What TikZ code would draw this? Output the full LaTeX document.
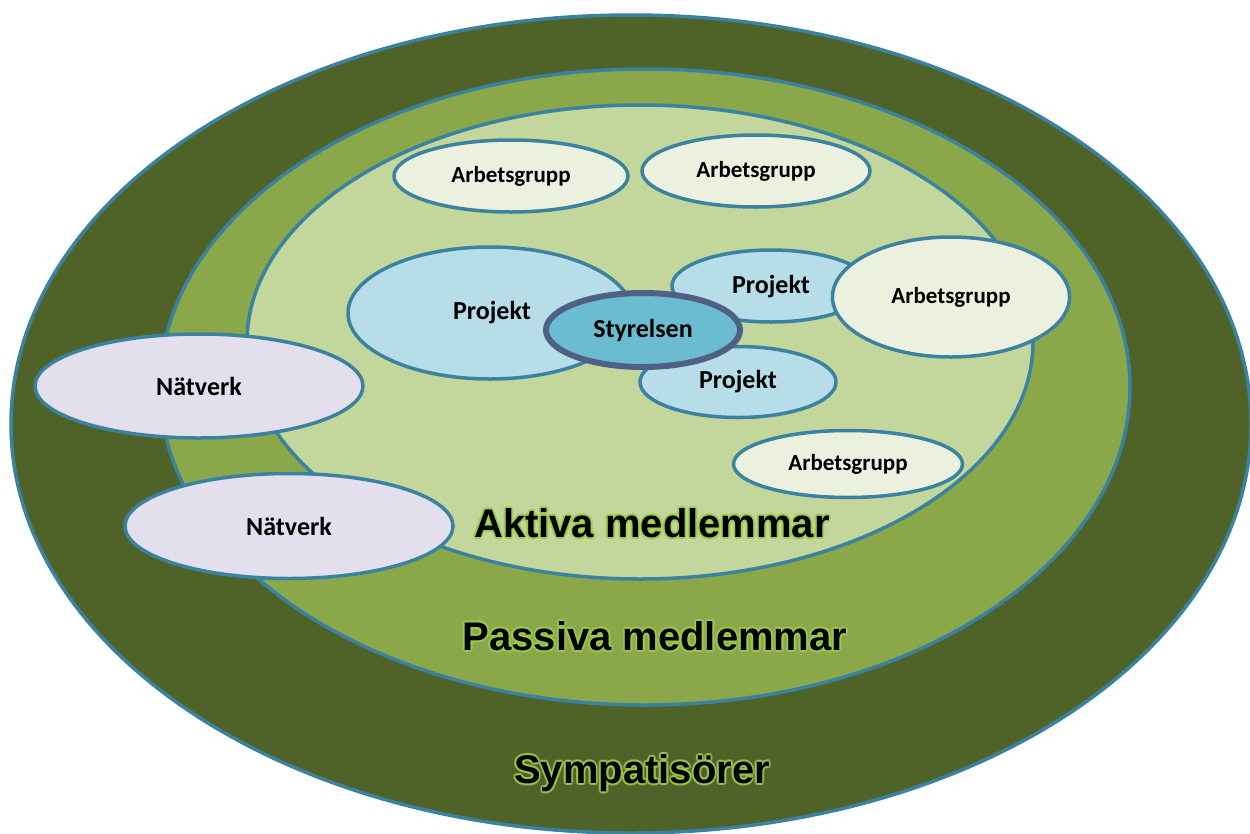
\documentclass[tikz,border=0pt]{standalone}
\usepackage{fontspec}
\usetikzlibrary{shapes.geometric,calc}
\newfontfamily\carl{Carlito}
\newfontfamily\libs{Liberation Sans}
\definecolor{ringdark}{HTML}{4F6228}
\definecolor{ringmid}{HTML}{8AA849}
\definecolor{ringlight}{HTML}{C3D69B}
\definecolor{edgeblue}{HTML}{3A82A0}
\definecolor{projfill}{HTML}{B7DDE8}
\definecolor{styrfill}{HTML}{6CBCD1}
\definecolor{styredge}{HTML}{4E6184}
\definecolor{agfill}{HTML}{EBF1DE}
\definecolor{natfill}{HTML}{E4DFEC}
\definecolor{glow}{HTML}{9CCB4E}
\tikzset{
  ell/.style={ellipse, draw=edgeblue, line width=3.5pt, inner sep=0pt},
  ring/.style={ell},
  agbox/.style={ell, fill=agfill},
  projbox/.style={ell, fill=projfill},
  natbox/.style={ell, fill=natfill},
  styrbox/.style={ellipse, draw=styredge, fill=styrfill, line width=6pt, inner sep=0pt},
  small/.style={font=\carl\bfseries\fontsize{23}{27}\selectfont},
  mid/.style={font=\carl\bfseries\fontsize{26}{30}\selectfont},
  big/.style={font=\libs\bfseries\fontsize{40}{46}\selectfont},
}
\newcommand{\glowlabel}[3]{%
  \foreach \a in {0,30,...,330}{\node[big, text=glow, opacity=0.55] at ($(#2)+(\a:2pt)$) {#3};}
  \node[big, text=black] (#1) at (#2) {#3};}
\begin{document}
\begin{tikzpicture}[x=1pt,y=-1pt]
\useasboundingbox (0,0) rectangle (1250,833);
\clip (0,0) rectangle (1250,833);
\fill[white] (0,0) rectangle (1250,833);
% rings
\node[ring, fill=ringdark, minimum width=1240pt, minimum height=818pt] (symp) at (631,424) {};
\node[ring, fill=ringmid, minimum width=970pt, minimum height=636pt] (pass) at (645,387) {};
\node[ring, fill=ringlight, minimum width=786pt, minimum height=474pt] (akt) at (640,342) {};
% networks
\node[natbox, minimum width=328pt, minimum height=104pt, mid] (nat1) at (199,386) {Nätverk};
\node[natbox, minimum width=328pt, minimum height=105pt, mid] (nat2) at (289,526) {Nätverk};
% working groups top
\node[agbox, minimum width=234pt, minimum height=72pt, small] (ag1) at (511,176) {Arbetsgrupp};
\node[agbox, minimum width=228pt, minimum height=72pt, small] (ag2) at (756,171) {Arbetsgrupp};
% projects
\node[projbox, minimum width=284pt, minimum height=132pt] (proj1) at (490,313) {};
\node[mid] (proj1t) at (492,313) {Projekt};
\node[projbox, minimum width=198pt, minimum height=72pt] (proj2) at (771,286) {};
\node[mid] (proj2t) at (771,287) {Projekt};
\node[agbox, minimum width=237pt, minimum height=120pt, small] (ag3) at (951,297) {Arbetsgrupp};
\node[projbox, minimum width=196pt, minimum height=71pt, mid] (proj3) at (738,382) {Projekt};
\node[styrbox, minimum width=194pt, minimum height=74pt, mid] (styr) at (643,330) {Styrelsen};
\node[agbox, minimum width=229pt, minimum height=67pt, small] (ag4) at (848,464) {Arbetsgrupp};
% ring labels
\glowlabel{laktiv}{652,523}{Aktiva medlemmar}
\glowlabel{lpass}{655,636}{Passiva medlemmar}
\glowlabel{lsymp}{642,773}{Sympatisörer}
\end{tikzpicture}
\end{document}
